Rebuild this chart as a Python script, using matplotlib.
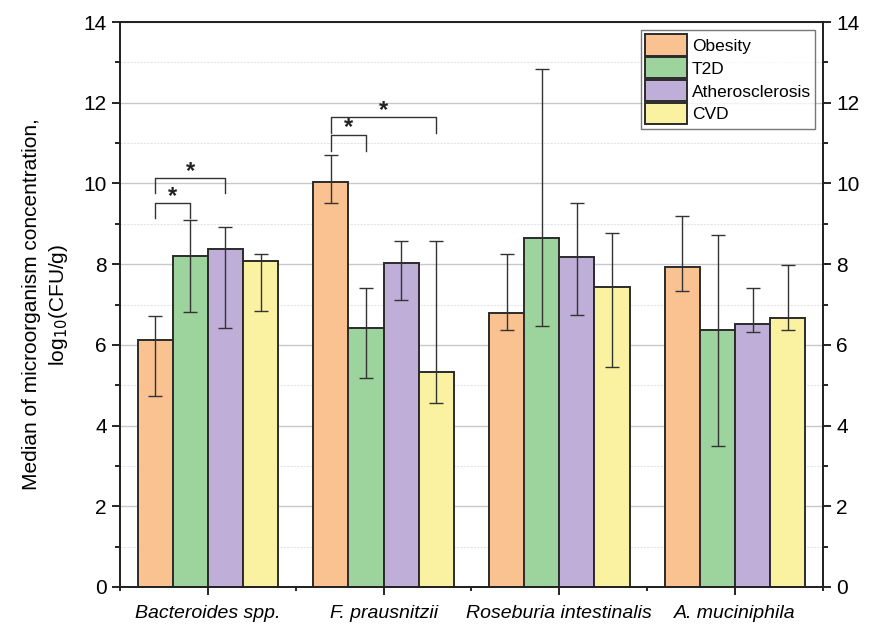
import numpy as np
import matplotlib.pyplot as plt
from matplotlib.ticker import MultipleLocator, FixedLocator

plt.rcParams['font.family'] = ['Liberation Sans', 'DejaVu Sans']

# Data
groups = ['Bacteroides spp.', 'F. prausnitzii', 'Roseburia intestinalis', 'A. muciniphila']
series = ['Obesity', 'T2D', 'Atherosclerosis', 'CVD']
colors = ['#F9C290', '#9DD39C', '#BFAED7', '#FAF2A0']

median = {
    'Obesity':         [6.11, 10.04, 6.78, 7.93],
    'T2D':             [8.21, 6.43, 8.65, 6.36],
    'Atherosclerosis': [8.38, 8.02, 8.18, 6.51],
    'CVD':             [8.07, 5.33, 7.43, 6.67],
}
err_low = {
    'Obesity':         [4.73, 9.51, 6.38, 7.34],
    'T2D':             [6.81, 5.17, 6.47, 3.50],
    'Atherosclerosis': [6.42, 7.11, 6.75, 6.32],
    'CVD':             [6.85, 4.57, 5.45, 6.36],
}
err_high = {
    'Obesity':         [6.71, 10.70, 8.26, 9.20],
    'T2D':             [9.09, 7.40, 12.84, 8.72],
    'Atherosclerosis': [8.93, 8.57, 9.52, 7.41],
    'CVD':             [8.25, 8.57, 8.77, 7.98],
}

# significance brackets: (group index, series a, series b, top, leg bottom)
brackets = [
    (0, 0, 1, 9.52, 9.15),
    (0, 0, 2, 10.14, 9.77),
    (1, 0, 1, 11.21, 10.81),
    (1, 0, 3, 11.64, 11.26),
]

fig = plt.figure(figsize=(8.74, 6.3), dpi=100)
ax = fig.add_axes([0.1373, 0.0683, 0.8043, 0.8967])

x = np.arange(1, len(groups) + 1)
width = 0.2
offsets = [-0.3, -0.1, 0.1, 0.3]

for i, s in enumerate(series):
    m = np.array(median[s])
    lo = m - np.array(err_low[s])
    hi = np.array(err_high[s]) - m
    ax.bar(x + offsets[i], m, width, color=colors[i], edgecolor='#2b2b2b',
           linewidth=1.4, label=s, zorder=3)
    ax.errorbar(x + offsets[i], m, yerr=[lo, hi], fmt='none', ecolor='#333333',
                elinewidth=1.0, capsize=5, capthick=1.0, zorder=4)

for g, a, b, top, bot in brackets:
    xa = x[g] + offsets[a]
    xb = x[g] + offsets[b]
    ax.plot([xa, xa, xb, xb], [bot, top, top, bot], color='#333333', lw=1.0, zorder=5)
    ax.text((xa + xb) / 2, top - 0.12, '*', ha='center', va='bottom',
            fontsize=17, fontweight='bold', color='#222222', zorder=5)

ax.set_xlim(0.5, 4.5)
ax.set_ylim(0, 14)
ax.set_xticks(x)
ax.set_xticklabels(groups, fontsize=14, style='italic')
ax.xaxis.set_minor_locator(FixedLocator([0.5, 1.5, 2.5, 3.5, 4.5]))
ax.yaxis.set_major_locator(MultipleLocator(2))
ax.yaxis.set_minor_locator(MultipleLocator(1))
ax.tick_params(axis='y', which='major', labelsize=15, length=6, width=1.2)
ax.tick_params(axis='y', which='minor', length=3.5, width=1.2)
ax.tick_params(axis='x', which='major', length=6, width=1.2, pad=7)
ax.tick_params(axis='x', which='minor', length=3, width=1.2)

ax.grid(axis='y', which='major', color='#c8c8c8', lw=1.0, zorder=0)
ax.grid(axis='y', which='minor', color='#e4e4e4', lw=0.8, ls=(0, (2, 1)), zorder=0)

for sp in ax.spines.values():
    sp.set_linewidth(1.3)
    sp.set_color('#222222')

ax.set_ylabel('Median of microorganism concentration,\nlog$_{10}$(CFU/g)',
              fontsize=15, labelpad=10, linespacing=1.3)

# right axis copy
ax2 = ax.twinx()
ax2.set_ylim(0, 14)
ax2.yaxis.set_major_locator(MultipleLocator(2))
ax2.yaxis.set_minor_locator(MultipleLocator(1))
ax2.tick_params(axis='y', which='major', labelsize=15, length=6, width=1.2)
ax2.tick_params(axis='y', which='minor', length=3.5, width=1.2)
for sp in ax2.spines.values():
    sp.set_linewidth(1.3)
    sp.set_color('#222222')

leg = ax.legend(loc='upper right', bbox_to_anchor=(0.994, 0.992), fontsize=12.5,
                frameon=True, fancybox=False, edgecolor='#555555',
                handlelength=2.4, handleheight=1.5, labelspacing=0.1,
                handletextpad=0.3, borderpad=0.25, borderaxespad=0.2)
leg.get_frame().set_linewidth(1.0)
leg.set_zorder(10)

fig.savefig('out.png', dpi=100)
